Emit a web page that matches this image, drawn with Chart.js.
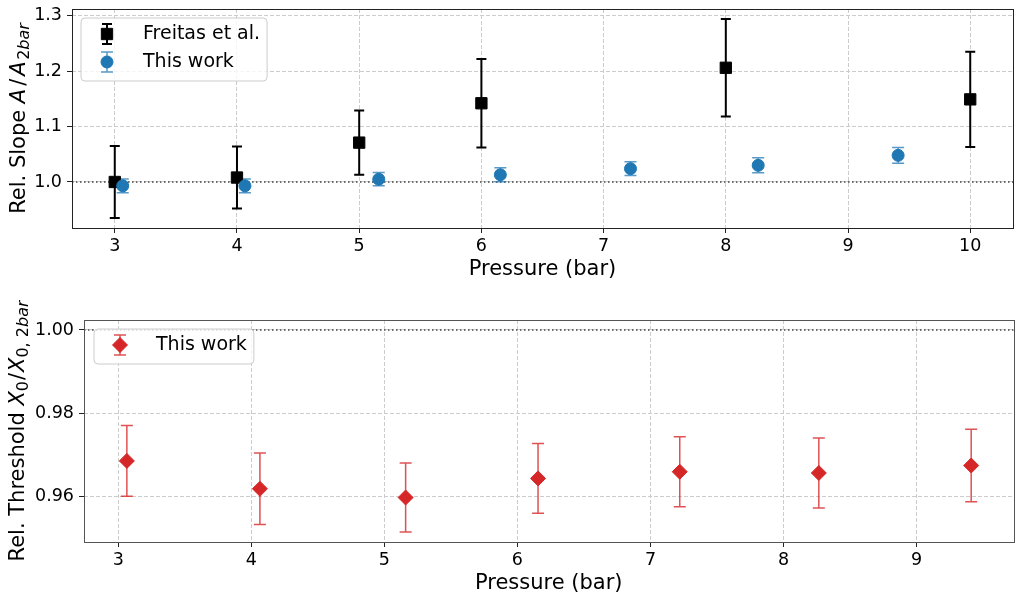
<!DOCTYPE html>
<html>
<head>
<meta charset="utf-8">
<script src="https://cdn.jsdelivr.net/npm/chart.js@4.4.0/dist/chart.umd.min.js"></script>
<style>
  html, body { margin: 0; padding: 0; background: #fff; }
  #wrap { position: relative; width: 1022px; height: 600px; }
  canvas { position: absolute; left: 0; }
</style>
</head>
<body>
<div id="wrap">
  <canvas id="slopeChart" width="1022" height="300" style="top:0"></canvas>
  <canvas id="thresholdChart" width="1022" height="300" style="top:300px"></canvas>
</div>
<script>
// values
var pressureFreitas = [3, 4, 5, 6, 8, 10];
var slopeFreitas = [1.000, 1.008, 1.071, 1.142, 1.206, 1.149];
var slopeFreitasErr = [0.065, 0.056, 0.058, 0.080, 0.088, 0.086];

var pressureThis = [3.065, 4.065, 5.16, 6.155, 7.22, 8.265, 9.41];
var slopeThis = [0.993, 0.993, 1.005, 1.013, 1.024, 1.030, 1.048];
var slopeThisErr = [0.0125, 0.0125, 0.012, 0.0125, 0.0125, 0.0135, 0.014];

var thresholdThis = [0.9685, 0.9618, 0.9597, 0.9643, 0.9659, 0.9656, 0.9674];
var thresholdErr = [0.0085, 0.0086, 0.0083, 0.0084, 0.0084, 0.0084, 0.0087];

var slopeTicksX = [3, 4, 5, 6, 7, 8, 9, 10];
var slopeTicksY = [1.0, 1.1, 1.2, 1.3];
var thresholdTicksX = [3, 4, 5, 6, 7, 8, 9];
var thresholdTicksY = [0.96, 0.98, 1.00];

var FONT = 'DejaVu Sans';
var blue = '#1f77b4';
var red = '#d62728';

Chart.defaults.color = '#000';
Chart.defaults.font.family = FONT;

function points(xs, ys) {
    return xs.map(function(x, i) { return { x: x, y: ys[i] }; });
}

function drawMarker(ctx, style, x, y, r) {
    ctx.beginPath();
    if (style === 'rect') {
        var s = r * Math.SQRT1_2;
        ctx.rect(x - s, y - s, 2 * s, 2 * s);
    } else if (style === 'rectRot') {
        ctx.moveTo(x - r, y);
        ctx.lineTo(x, y - r);
        ctx.lineTo(x + r, y);
        ctx.lineTo(x, y + r);
        ctx.closePath();
    } else {
        ctx.arc(x, y, r, 0, Math.PI * 2);
    }
    ctx.fill();
    ctx.stroke();
}

function drawErrorBar(ctx, x, top, bot, cap) {
    ctx.beginPath();
    ctx.moveTo(x, top); ctx.lineTo(x, bot);
    ctx.moveTo(x - cap, top); ctx.lineTo(x + cap, top);
    ctx.moveTo(x - cap, bot); ctx.lineTo(x + cap, bot);
    ctx.stroke();
}

// frame + dotted reference line, under the points
var refLine = {
    id: 'refLine',
    beforeDatasetsDraw: function(chart, args, opts) {
        var ctx = chart.ctx, a = chart.chartArea;
        var y = Math.round(chart.scales.y.getPixelForValue(opts.value));
        ctx.save();
        ctx.strokeStyle = opts.color;
        ctx.lineWidth = 1.5;
        ctx.setLineDash([1.5, 2.5]);
        ctx.beginPath();
        ctx.moveTo(a.left, y);
        ctx.lineTo(a.right, y);
        ctx.stroke();
        ctx.setLineDash([]);
        ctx.strokeStyle = opts.frame;
        ctx.lineWidth = 1;
        ctx.strokeRect(Math.round(a.left) + 0.5, Math.round(a.top) + 0.5,
            Math.round(a.right - a.left), Math.round(a.bottom - a.top));
        ctx.restore();
    }
};

var errorBars = {
    id: 'errorBars',
    beforeDatasetsDraw: function(chart) {
        var ctx = chart.ctx, xs = chart.scales.x, ys = chart.scales.y;
        chart.data.datasets.forEach(function(ds) {
            if (!ds.errors) return;
            ctx.save();
            ctx.strokeStyle = ds.errorColor;
            ctx.lineWidth = ds.errorWidth;
            ds.data.forEach(function(p, i) {
                var px = xs.getPixelForValue(p.x);
                drawErrorBar(ctx, px, ys.getPixelForValue(p.y + ds.errors[i]),
                    ys.getPixelForValue(p.y - ds.errors[i]), ds.capSize);
            });
            ctx.restore();
        });
    }
};

var boxLegend = {
    id: 'boxLegend',
    afterDraw: function(chart, args, opts) {
        var ctx = chart.ctx, a = chart.chartArea;
        var sets = chart.data.datasets;
        ctx.save();
        ctx.font = '19px "' + FONT + '"';
        var textW = 0;
        sets.forEach(function(ds) { textW = Math.max(textW, ctx.measureText(ds.label).width); });
        var x0 = a.left + opts.offsetX, y0 = a.top + opts.offsetY;
        var w = 62 + textW + 7, h = 28 * sets.length + 7, r = 4;
        ctx.beginPath();
        ctx.moveTo(x0 + r, y0);
        ctx.arcTo(x0 + w, y0, x0 + w, y0 + h, r);
        ctx.arcTo(x0 + w, y0 + h, x0, y0 + h, r);
        ctx.arcTo(x0, y0 + h, x0, y0, r);
        ctx.arcTo(x0, y0, x0 + w, y0, r);
        ctx.closePath();
        ctx.fillStyle = 'rgba(255,255,255,0.8)';
        ctx.fill();
        ctx.strokeStyle = '#cccccc';
        ctx.lineWidth = 1;
        ctx.stroke();
        sets.forEach(function(ds, i) {
            var cy = y0 + 16 + 28 * i, mx = x0 + 26;
            ctx.strokeStyle = ds.errorColor;
            ctx.lineWidth = ds.errorWidth;
            drawErrorBar(ctx, mx, cy - 10, cy + 10, ds.capSize);
            ctx.fillStyle = ds.backgroundColor;
            ctx.strokeStyle = ds.borderColor;
            ctx.lineWidth = 1;
            drawMarker(ctx, ds.pointStyle, mx, cy, ds.pointRadius);
            ctx.fillStyle = '#000';
            ctx.textBaseline = 'middle';
            ctx.fillText(ds.label, x0 + 62, cy);
        });
        ctx.restore();
    }
};

// y title with italic / subscript pieces
var yTitle = {
    id: 'yTitle',
    afterDraw: function(chart, args, opts) {
        var ctx = chart.ctx, a = chart.chartArea;
        var total = 0;
        ctx.save();
        opts.parts.forEach(function(p) {
            ctx.font = p.font;
            p.w = ctx.measureText(p.text).width + (p.gap || 0);
            total += p.w;
        });
        ctx.translate(opts.x, (a.top + a.bottom) / 2);
        ctx.rotate(-Math.PI / 2);
        ctx.fillStyle = '#000';
        ctx.textBaseline = 'alphabetic';
        var cx = -total / 2;
        opts.parts.forEach(function(p) {
            ctx.font = p.font;
            ctx.fillText(p.text, cx, p.dy || 0);
            cx += p.w;
        });
        ctx.restore();
    }
};

var big = '21px "' + FONT + '"';
var bigIt = 'italic 21px "' + FONT + '"';
var sub = '16px "' + FONT + '"';
var subIt = 'italic 16px "' + FONT + '"';

function axes(xMin, xMax, xTicks, yMin, yMax, yTicks, yDigits, yWidth) {
    return {
        x: {
            type: 'linear', min: xMin, max: xMax,
            afterBuildTicks: function(s) { s.ticks = xTicks.map(function(v) { return { value: v }; }); },
            afterFit: function(s) { s.height = 54.6; s.paddingLeft = 0; s.paddingRight = 0; },
            grid: { color: '#cccccc', tickColor: '#222', tickLength: 5, tickBorderDash: [] },
            border: { display: false, dash: [4, 2] },
            ticks: { font: { size: 17.5 }, padding: 3, maxRotation: 0,
                callback: function(v) { return String(v); } },
            title: { display: true, text: 'Pressure (bar)', font: { size: 21 }, padding: 0 }
        },
        y: {
            type: 'linear', min: yMin, max: yMax,
            afterBuildTicks: function(s) { s.ticks = yTicks.map(function(v) { return { value: v }; }); },
            afterFit: function(s) { s.width = yWidth; s.paddingTop = 0; s.paddingBottom = 0; },
            grid: { color: '#cccccc', tickColor: '#222', tickLength: 5, tickBorderDash: [] },
            border: { display: false, dash: [4, 2] },
            ticks: { font: { size: 17.5 }, padding: 5,
                callback: function(v) { return v.toFixed(yDigits); } }
        }
    };
}

function slope() {
    var ctx = document.getElementById('slopeChart').getContext('2d');
    new Chart(ctx, {
        type: 'scatter',
        data: {
            datasets: [{
                label: 'Freitas et al.',
                data: points(pressureFreitas, slopeFreitas),
                errors: slopeFreitasErr,
                errorColor: '#000', errorWidth: 2, capSize: 5,
                pointStyle: 'rect', pointRadius: 8,
                backgroundColor: '#000', borderColor: '#000',
                order: 1
            }, {
                label: 'This work',
                data: points(pressureThis, slopeThis),
                errors: slopeThisErr,
                errorColor: 'rgba(31,119,180,0.75)', errorWidth: 1.5, capSize: 6,
                pointStyle: 'circle', pointRadius: 6,
                backgroundColor: blue, borderColor: blue,
                order: 0
            }]
        },
        options: {
            responsive: false,
            animation: false,
            layout: { padding: { top: 7, right: 7, left: 0, bottom: 17.4 } },
            scales: axes(2.65, 10.35, slopeTicksX, 0.917, 1.312, slopeTicksY, 1, 72),
            plugins: {
                legend: { display: false },
                tooltip: { enabled: false },
                refLine: { value: 1.0, color: '#444', frame: '#222' },
                boxLegend: { offsetX: 9, offsetY: 9 },
                yTitle: { x: 25, parts: [
                    { text: 'Rel. Slope ', font: big },
                    { text: 'A', font: bigIt, gap: 3 },
                    { text: '/', font: big, gap: 3 },
                    { text: 'A', font: bigIt, gap: 1.5 },
                    { text: '2', font: sub, dy: 4 },
                    { text: 'bar', font: subIt, dy: 4 }
                ] }
            }
        },
        plugins: [refLine, errorBars, boxLegend, yTitle]
    });
}

function threshold() {
    var ctx = document.getElementById('thresholdChart').getContext('2d');
    new Chart(ctx, {
        type: 'scatter',
        data: {
            datasets: [{
                label: 'This work',
                data: points(pressureThis, thresholdThis),
                errors: thresholdErr,
                errorColor: 'rgba(214,39,40,0.8)', errorWidth: 1.5, capSize: 6,
                pointStyle: 'rectRot', pointRadius: 7.5,
                backgroundColor: red, borderColor: red
            }]
        },
        options: {
            responsive: false,
            animation: false,
            layout: { padding: { top: 20, right: 7, left: 0, bottom: 3.4 } },
            scales: axes(2.743, 9.728, thresholdTicksX, 0.949, 1.0024, thresholdTicksY, 2, 84),
            plugins: {
                legend: { display: false },
                tooltip: { enabled: false },
                refLine: { value: 1.0, color: '#444', frame: '#555' },
                boxLegend: { offsetX: 10, offsetY: 9 },
                yTitle: { x: 24, parts: [
                    { text: 'Rel. Threshold ', font: big },
                    { text: 'X', font: bigIt },
                    { text: '0', font: sub, dy: 4, gap: 1 },
                    { text: '/', font: big, gap: 1 },
                    { text: 'X', font: bigIt },
                    { text: '0, 2', font: sub, dy: 4 },
                    { text: 'bar', font: subIt, dy: 4 }
                ] }
            }
        },
        plugins: [refLine, errorBars, boxLegend, yTitle]
    });
}

slope();
threshold();
</script>
</body>
</html>
